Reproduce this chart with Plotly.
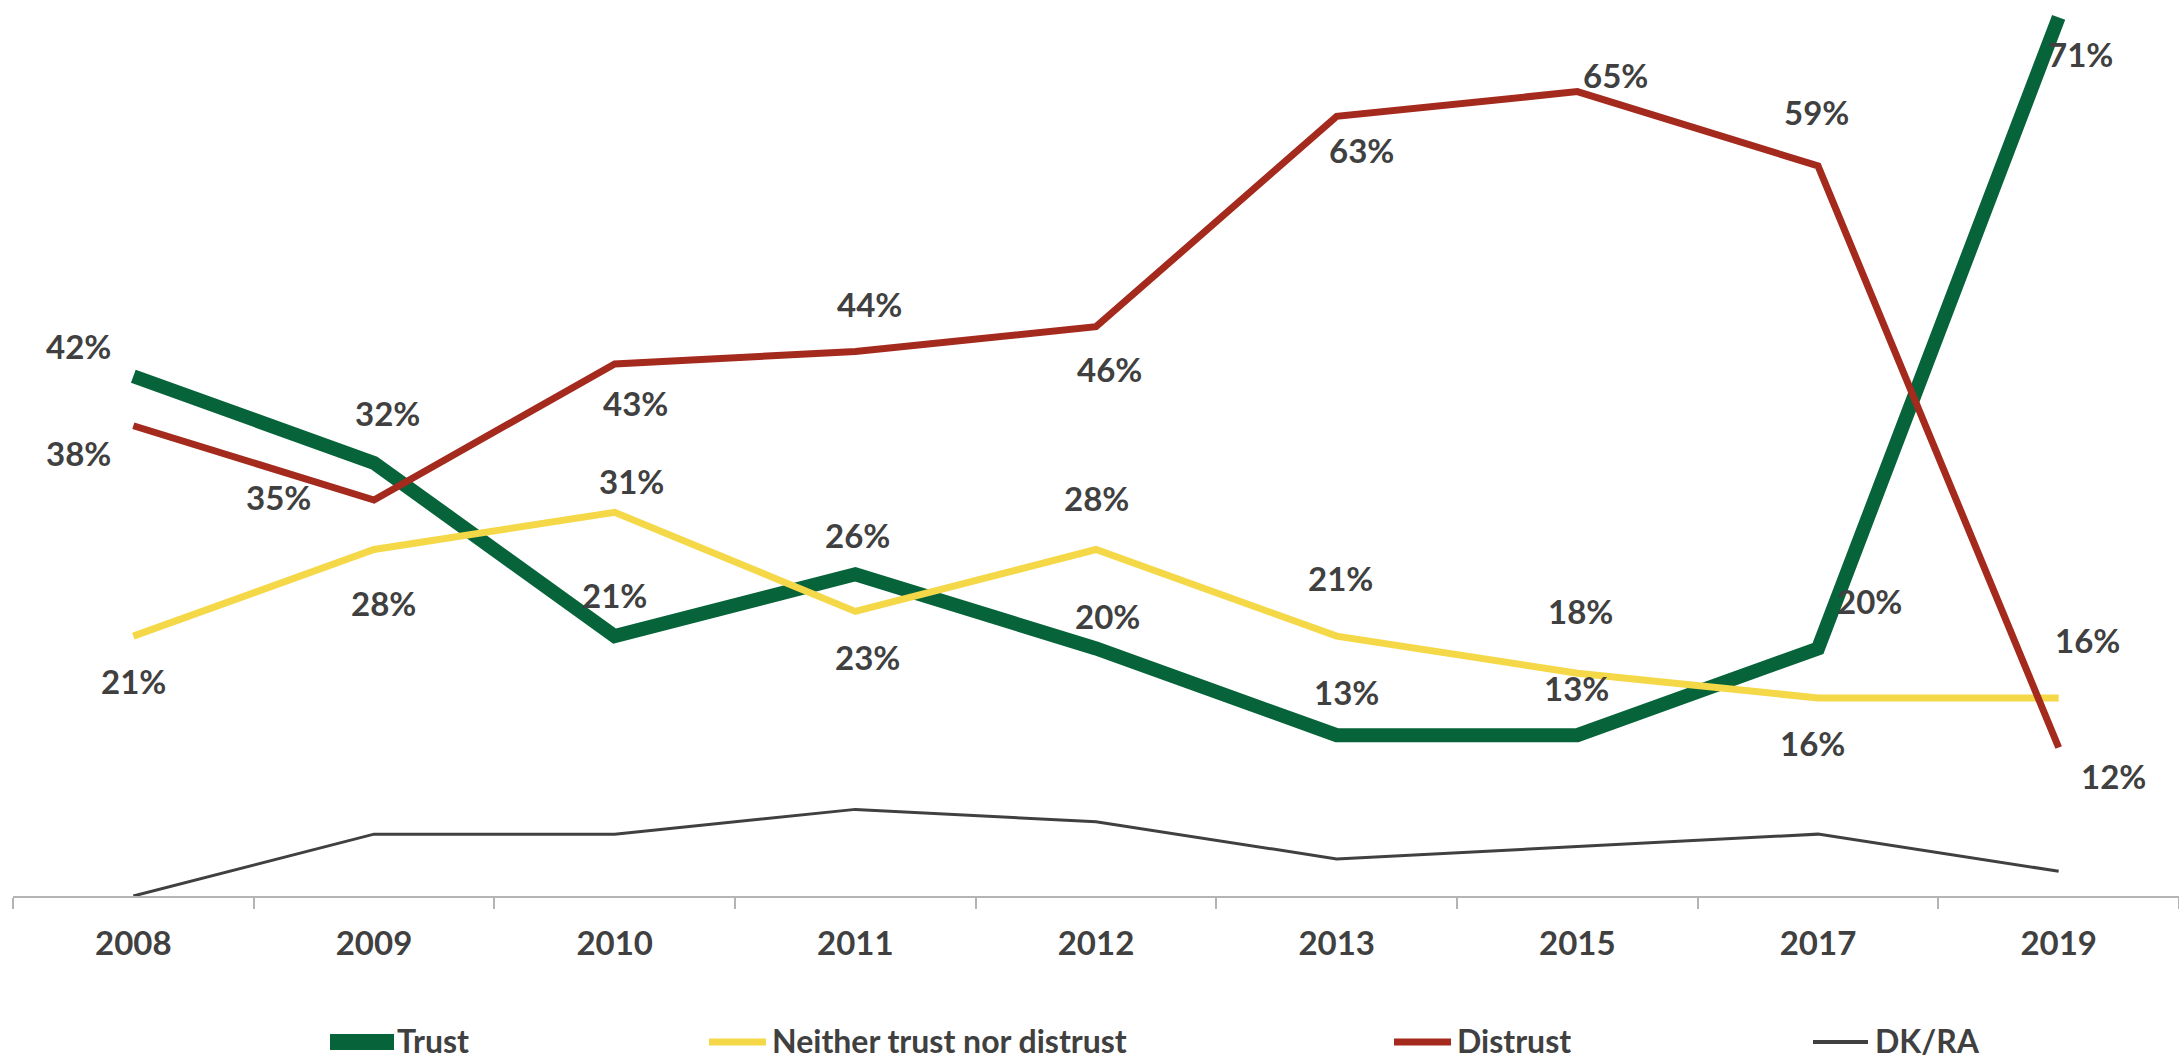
import plotly.graph_objects as go

# Survey years (category axis) and the share of answers per option, in %
years = ["2008", "2009", "2010", "2011", "2012", "2013", "2015", "2017", "2019"]
trust = [42, 35, 21, 26, 20, 13, 13, 20, 71]
neither = [21, 28, 31, 23, 28, 21, 18, 16, 16]
distrust = [38, 32, 43, 44, 46, 63, 65, 59, 12]
dk_ra = [0, 5, 5, 7, 6, 3, 4, 5, 2]

series_names = ["Trust", "Neither trust nor distrust", "Distrust", "DK/RA"]

# Label offsets in pixels (dx to the right, dy downward) for each labelled point
trust_label_off = [(-55, -30), (-96, 34), (0, -41), (2, -39), (11, -33),
                   (10, -43), (-1, -47), (51, -48), (22, 37)]
neither_label_off = [(0, 45), (9, 53), (17, -31), (12, 46), (0, -52),
                     (4, -58), (3, -62), (-6, 45), (29, -58)]
distrust_label_off = [(-55, 27), (13, -87), (21, 39), (14, -48), (13, 42),
                      (25, 34), (38, -17), (-2, -54), (55, 28)]

GREEN = "#07643A"
YELLOW = "#F5D848"
RED = "#A52A1E"
GRAY = "#404040"
TEXT = "#404040"
FONT = "Lato"

W, H = 2179, 1059
ML, MR, MT, MB = 13, 0, 5, 163

fig = go.Figure()

styles = [
    (trust, series_names[0], GREEN, 14),
    (neither, series_names[1], YELLOW, 7),
    (distrust, series_names[2], RED, 7),
    (dk_ra, series_names[3], GRAY, 3),
]
for values, name, color, width in styles:
    fig.add_trace(go.Scatter(
        x=years, y=values, name=name, mode="lines",
        line=dict(color=color, width=width),
        cliponaxis=False, showlegend=False, hoverinfo="skip",
    ))

# Value labels for the three main series (x given as category index)
annotations = []
for values, offs in [(trust, trust_label_off),
                     (neither, neither_label_off),
                     (distrust, distrust_label_off)]:
    for i, (v, (dx, dy)) in enumerate(zip(values, offs)):
        annotations.append(dict(
            x=i, y=v, xref="x", yref="y", text=f"{v}%",
            showarrow=False, xshift=dx, yshift=-dy,
            xanchor="center", yanchor="middle",
            font=dict(family=FONT, size=33, color=TEXT, weight=700),
        ))

# Legend row along the bottom
plot_w = W - ML - MR
plot_h = H - MT - MB


def px_to_paper_x(px):
    return (px - ML) / plot_w


def px_to_paper_y(py):
    return (H - MB - py) / plot_h


legend_y = 1042
legend_items = [
    (series_names[0], GREEN, 16, 330, 394, 395),
    (series_names[1], YELLOW, 7, 709, 766, 770),
    (series_names[2], RED, 7, 1394, 1451, 1455),
    (series_names[3], GRAY, 4, 1813, 1868, 1873),
]
shapes = []
for name, color, lw, x0, x1, tx in legend_items:
    shapes.append(dict(
        type="line", xref="paper", yref="paper",
        x0=px_to_paper_x(x0), x1=px_to_paper_x(x1),
        y0=px_to_paper_y(legend_y), y1=px_to_paper_y(legend_y),
        line=dict(color=color, width=lw),
    ))
    annotations.append(dict(
        x=px_to_paper_x(tx), y=px_to_paper_y(H + 3),
        xref="paper", yref="paper", text=name, showarrow=False,
        xanchor="left", yanchor="bottom",
        font=dict(family=FONT, size=32, color=TEXT, weight=700),
    ))

fig.update_layout(
    width=W, height=H,
    margin=dict(l=ML, r=MR, t=MT, b=MB),
    paper_bgcolor="white", plot_bgcolor="white",
    showlegend=False,
    annotations=annotations,
    shapes=shapes,
    xaxis=dict(
        type="category", categoryorder="array", categoryarray=years,
        range=[-0.5, len(years) - 0.5],
        showline=True, linecolor="#B4B4B4", linewidth=2,
        ticks="outside", ticklen=11, tickwidth=2, tickcolor="#B4B4B4",
        tickson="boundaries", showgrid=False, zeroline=False,
        ticklabelstandoff=17,
        tickfont=dict(family=FONT, size=33, color=TEXT, weight=700),
        fixedrange=True,
    ),
    yaxis=dict(
        range=[0, 72], visible=False, showgrid=False, zeroline=False,
        fixedrange=True,
    ),
)

fig.write_html("out.html")
